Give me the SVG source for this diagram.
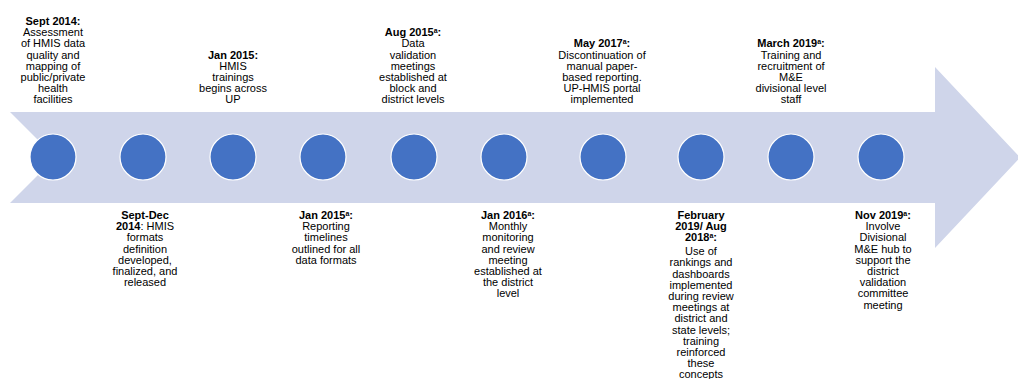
<svg xmlns="http://www.w3.org/2000/svg" width="1018" height="379" viewBox="0 0 1018 379">
<style>
text{font-family:"Liberation Sans",Arial,Helvetica,sans-serif;font-size:11px;fill:#000;text-anchor:middle}
.b{font-weight:bold}
.sup{font-size:7px;font-weight:bold}
.dot{fill:#4472C4;stroke:#fff;stroke-width:1.2}
</style>
<rect width="1018" height="379" fill="#fff"/>
<g id="arrow">
<polygon points="10,112 935,112 935,67 1020,157.5 935,248 935,203 10,203 55.5,157.5" fill="#CFD5EA"/>
</g>
<g id="connectors"></g>
<g id="dots">
<circle class="dot" cx="53" cy="157" r="23"/>
<circle class="dot" cx="143" cy="157" r="23"/>
<circle class="dot" cx="233" cy="157" r="23"/>
<circle class="dot" cx="323" cy="157" r="23"/>
<circle class="dot" cx="414" cy="157" r="23"/>
<circle class="dot" cx="504" cy="157" r="23"/>
<circle class="dot" cx="603" cy="157" r="23"/>
<circle class="dot" cx="701" cy="157" r="23"/>
<circle class="dot" cx="791" cy="157" r="23"/>
<circle class="dot" cx="881" cy="157" r="23"/>
</g>
<g id="n1">
<text x="53" y="25"><tspan class="b">Sept 2014:</tspan><tspan x="53" dy="11.2">Assessment</tspan><tspan x="53" dy="11.2">of HMIS data</tspan><tspan x="53" dy="11.2">quality and</tspan><tspan x="53" dy="11.2">mapping of</tspan><tspan x="53" dy="11.2">public/private</tspan><tspan x="53" dy="11.2">health</tspan><tspan x="53" dy="11.2">facilities</tspan></text>
</g>
<g id="n2">
<text x="145" y="219"><tspan class="b">Sept-Dec</tspan><tspan x="145" dy="11.2"><tspan class="b">2014</tspan>: HMIS</tspan><tspan x="145" dy="11.2">formats</tspan><tspan x="145" dy="11.2">definition</tspan><tspan x="145" dy="11.2">developed,</tspan><tspan x="145" dy="11.2">finalized, and</tspan><tspan x="145" dy="11.2">released</tspan></text>
</g>
<g id="n3">
<text x="233" y="58.6"><tspan class="b">Jan 2015:</tspan><tspan x="233" dy="11.2">HMIS</tspan><tspan x="233" dy="11.2">trainings</tspan><tspan x="233" dy="11.2">begins across</tspan><tspan x="233" dy="11.2">UP</tspan></text>
</g>
<g id="n4">
<text x="326" y="219"><tspan class="b">Jan 2015<tspan class="sup" dy="-3.5">a</tspan><tspan dy="3.5">:</tspan></tspan><tspan x="326" dy="11.2">Reporting</tspan><tspan x="326" dy="11.2">timelines</tspan><tspan x="326" dy="11.2">outlined for all</tspan><tspan x="326" dy="11.2">data formats</tspan></text>
</g>
<g id="n5">
<text x="413" y="36.2"><tspan class="b">Aug 2015<tspan class="sup" dy="-3.5">a</tspan><tspan dy="3.5">:</tspan></tspan><tspan x="413" dy="11.2">Data</tspan><tspan x="413" dy="11.2">validation</tspan><tspan x="413" dy="11.2">meetings</tspan><tspan x="413" dy="11.2">established at</tspan><tspan x="413" dy="11.2">block and</tspan><tspan x="413" dy="11.2">district levels</tspan></text>
</g>
<g id="n6">
<text x="508" y="219"><tspan class="b">Jan 2016<tspan class="sup" dy="-3.5">a</tspan><tspan dy="3.5">:</tspan></tspan><tspan x="508" dy="11.2">Monthly</tspan><tspan x="508" dy="11.2">monitoring</tspan><tspan x="508" dy="11.2">and review</tspan><tspan x="508" dy="11.2">meeting</tspan><tspan x="508" dy="11.2">established at</tspan><tspan x="508" dy="11.2">the district</tspan><tspan x="508" dy="11.2">level</tspan></text>
</g>
<g id="n7">
<text x="602" y="47.4"><tspan class="b">May 2017<tspan class="sup" dy="-3.5">a</tspan><tspan dy="3.5">:</tspan></tspan><tspan x="602" dy="11.2">Discontinuation of</tspan><tspan x="602" dy="11.2">manual paper-</tspan><tspan x="602" dy="11.2">based reporting.</tspan><tspan x="602" dy="11.2">UP-HMIS portal</tspan><tspan x="602" dy="11.2">implemented</tspan></text>
</g>
<g id="n8">
<text x="701" y="219"><tspan class="b">February</tspan><tspan x="701" dy="11.2" class="b">2019/ Aug</tspan><tspan x="701" dy="11.2" class="b">2018<tspan class="sup" dy="-3.5">a</tspan><tspan dy="3.5">:</tspan></tspan><tspan x="701" dy="13.8">Use of</tspan><tspan x="701" dy="11.2">rankings and</tspan><tspan x="701" dy="11.2">dashboards</tspan><tspan x="701" dy="11.2">implemented</tspan><tspan x="701" dy="11.2">during review</tspan><tspan x="701" dy="11.2">meetings at</tspan><tspan x="701" dy="11.2">district and</tspan><tspan x="701" dy="11.2">state levels;</tspan><tspan x="701" dy="11.2">training</tspan><tspan x="701" dy="11.2">reinforced</tspan><tspan x="701" dy="11.2">these</tspan><tspan x="701" dy="11.2">concepts</tspan></text>
</g>
<g id="n9">
<text x="791" y="47.4"><tspan class="b">March 2019<tspan class="sup" dy="-3.5">a</tspan><tspan dy="3.5">:</tspan></tspan><tspan x="791" dy="11.2">Training and</tspan><tspan x="791" dy="11.2">recruitment of</tspan><tspan x="791" dy="11.2">M&amp;E</tspan><tspan x="791" dy="11.2">divisional level</tspan><tspan x="791" dy="11.2">staff</tspan></text>
</g>
<g id="n10">
<text x="883" y="219"><tspan class="b">Nov 2019<tspan class="sup" dy="-3.5">a</tspan><tspan dy="3.5">:</tspan></tspan><tspan x="883" dy="11.2">Involve</tspan><tspan x="883" dy="11.2">Divisional</tspan><tspan x="883" dy="11.2">M&amp;E hub to</tspan><tspan x="883" dy="11.2">support the</tspan><tspan x="883" dy="11.2">district</tspan><tspan x="883" dy="11.2">validation</tspan><tspan x="883" dy="11.2">committee</tspan><tspan x="883" dy="11.2">meeting</tspan></text>
</g>
</svg>
